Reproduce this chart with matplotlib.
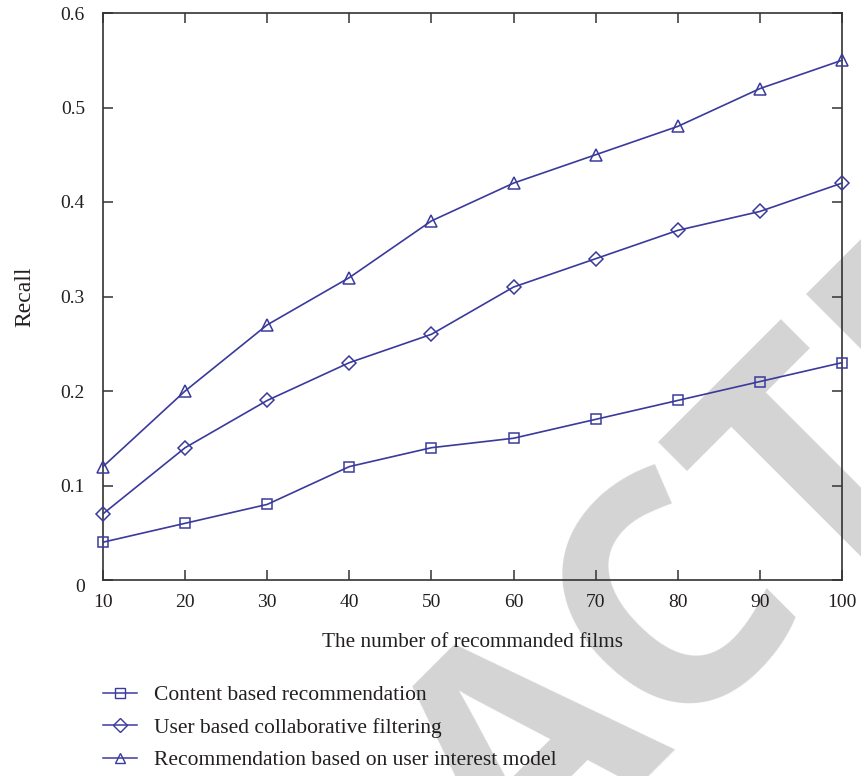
import matplotlib
matplotlib.use("Agg")
import matplotlib.pyplot as plt
from matplotlib.lines import Line2D
from matplotlib.transforms import ScaledTranslation

# ---- data ----
x_films = [10, 20, 30, 40, 50, 60, 70, 80, 90, 100]
content_based = [0.04, 0.06, 0.08, 0.12, 0.14, 0.15, 0.17, 0.19, 0.21, 0.23]
user_cf = [0.07, 0.14, 0.19, 0.23, 0.26, 0.31, 0.34, 0.37, 0.39, 0.42]
interest_model = [0.12, 0.20, 0.27, 0.32, 0.38, 0.42, 0.45, 0.48, 0.52, 0.55]
series_labels = ["Content based recommendation",
                 "User based collaborative filtering",
                 "Recommendation based on user interest model"]
x_ticks = [10, 20, 30, 40, 50, 60, 70, 80, 90, 100]
y_ticks = [0, 0.1, 0.2, 0.3, 0.4, 0.5, 0.6]
y_ticklabels = ["0", "0.1", "0.2", "0.3", "0.4", "0.5", "0.6"]
xlabel = "The number of recommanded films"
ylabel = "Recall"
watermark = "RETRACTED"

plt.rcParams['font.family'] = ['Liberation Serif', 'DejaVu Serif']

color = '#3a3a9c'
text_color = '#231f20'

fig = plt.figure(figsize=(8.62, 7.76), dpi=100)
ax = fig.add_axes([103/862, 1-580/776, 739/862, 567/776])
ax.patch.set_alpha(0)
ax.set_zorder(1)

# watermark behind everything
fig.text(534/862, 1-744/776, watermark, rotation=45, rotation_mode='anchor',
         ha='center', va='center', fontsize=232, fontweight='bold',
         family='Open Sans', color='#d4d4d4', zorder=-5)

markers = ['s', 'D', '^']
sizes = [7.5, 7.5, 8.5]
for ys, m, ms, lab in zip([content_based, user_cf, interest_model], markers, sizes, series_labels):
    ax.plot(x_films, ys, color=color, lw=1.2, marker=m, markersize=ms,
            markerfacecolor='none', markeredgecolor=color, markeredgewidth=1.1,
            label=lab, clip_on=False, zorder=3)

ax.set_xlim(10, 100)
ax.set_ylim(0, 0.6)
ax.set_xticks(x_ticks)
ax.set_yticks(y_ticks)
ax.set_yticklabels(y_ticklabels)
ax.tick_params(direction='in', length=7, width=1.1, color='#333333',
               labelsize=14, labelcolor=text_color, top=True, right=True)
ax.tick_params(axis='y', pad=13)
ax.tick_params(axis='x', pad=10)
for s in ax.spines.values():
    s.set_color('#333333')
    s.set_linewidth(1.2)

# the "0" label sits slightly lower in the reference
zero_lbl = ax.get_yticklabels()[0]
zero_lbl.set_transform(zero_lbl.get_transform() + ScaledTranslation(0, -5/100, fig.dpi_scale_trans))

ax.set_xlabel(xlabel, fontsize=15.3, color=text_color)
ax.xaxis.set_label_coords(0.5, -0.11)
ax.xaxis.label.set_va('center')
ax.set_ylabel(ylabel, fontsize=17, color=text_color)
ax.yaxis.set_label_coords(-0.092, 0.5)

handles = [Line2D([], [], color=color, lw=1.1, marker=m, markersize=7,
                  markerfacecolor='none', markeredgecolor=color, markeredgewidth=1.0)
           for m in markers]
leg = fig.legend(handles, series_labels, loc='upper left',
                 bbox_to_anchor=(103/862, 1-685/776), frameon=False,
                 fontsize=15.5, handlelength=1.6, handletextpad=0.75,
                 labelspacing=0.58, borderaxespad=0, borderpad=0)
for t in leg.get_texts():
    t.set_color(text_color)

fig.savefig('out.png', dpi=100)
